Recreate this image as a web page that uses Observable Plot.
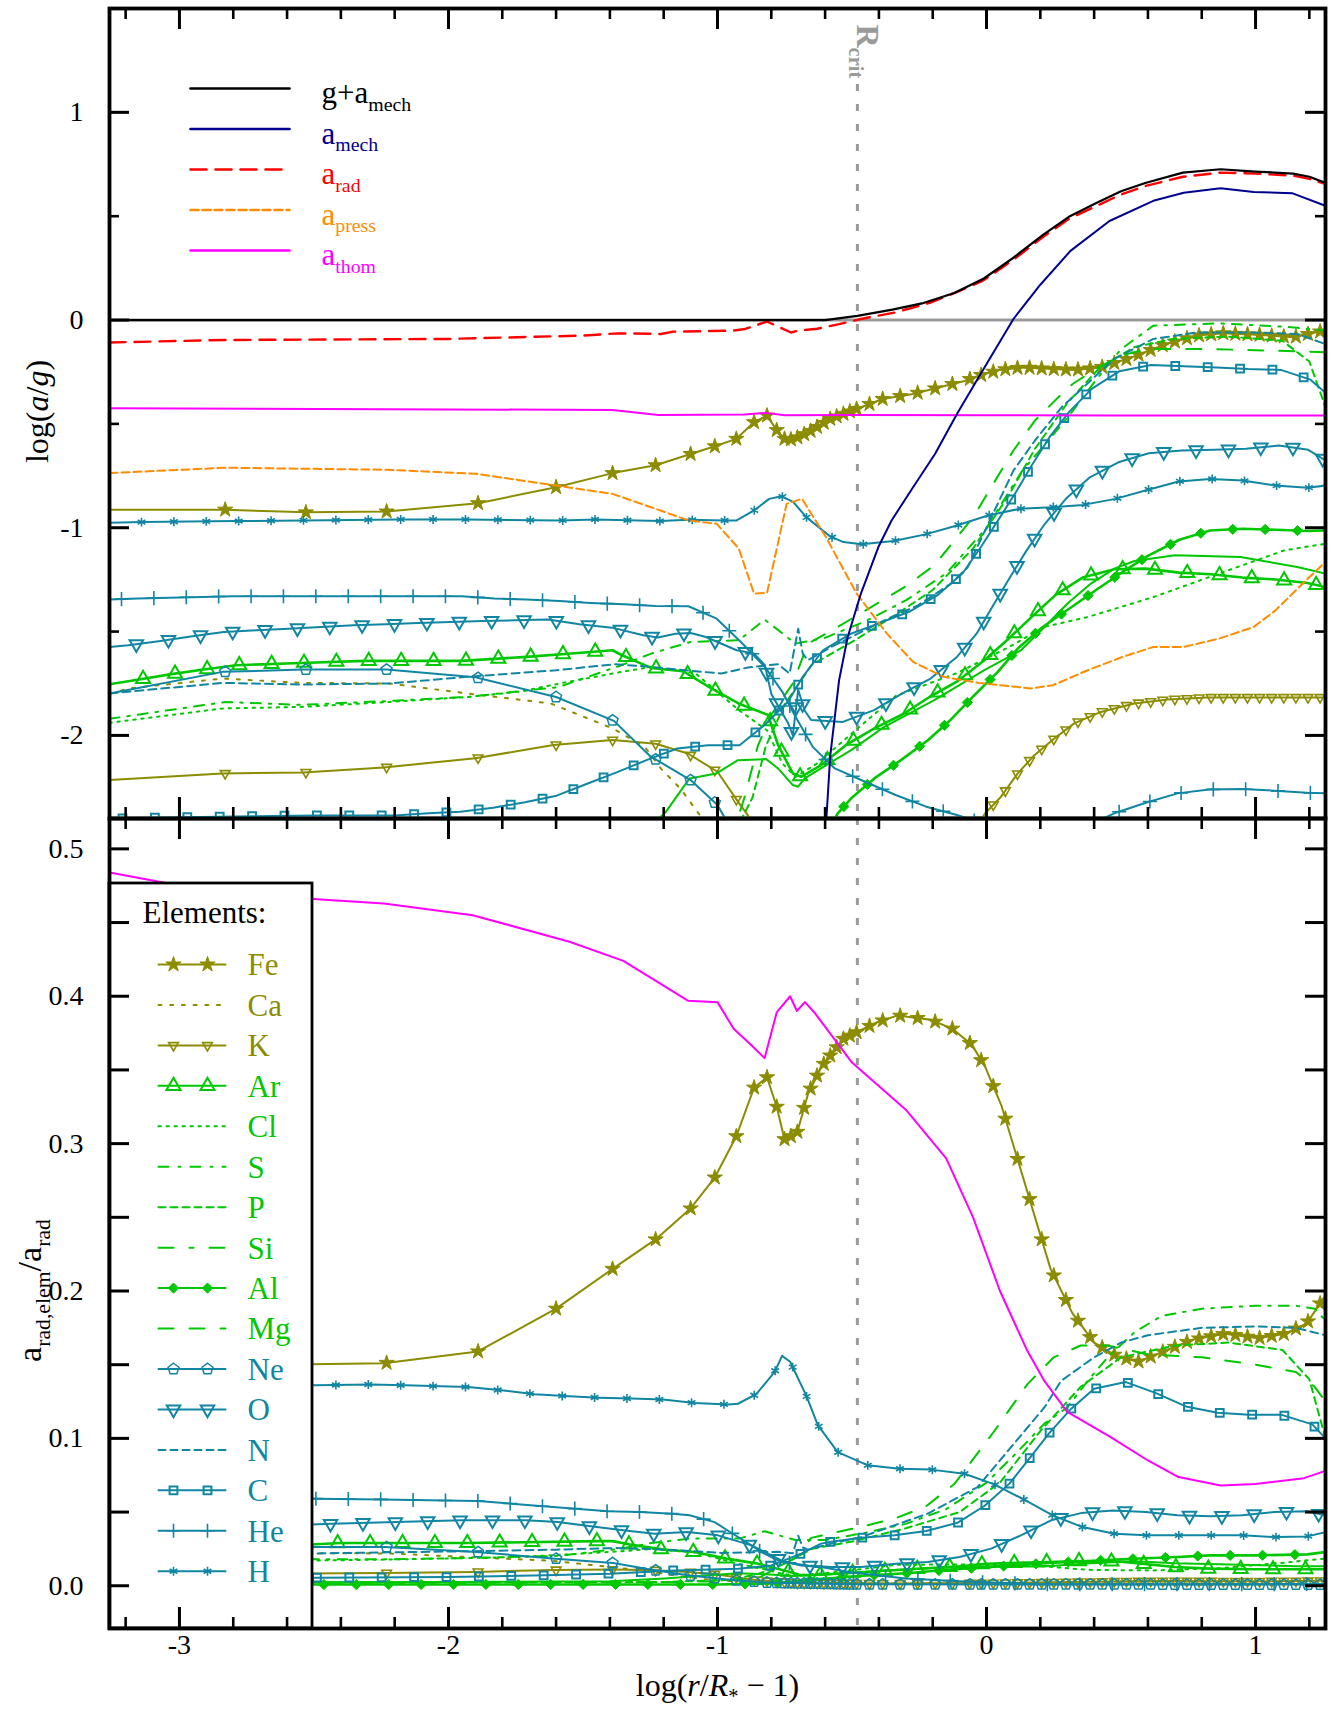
<!DOCTYPE html>
<html><head><meta charset="utf-8">
<script src="https://cdn.jsdelivr.net/npm/d3@7"></script>
<script src="https://cdn.jsdelivr.net/npm/@observablehq/plot@0.6"></script>
<style>
body{margin:0;background:#fff;}
#wrap{position:relative;width:1335px;height:1714px;background:#fff;}
#wrap svg{position:absolute;left:0;overflow:visible;}
#wrap svg text{font-family:'Liberation Serif','Times New Roman',serif;}
</style></head><body><div id="wrap"></div>
<script>
// ---------------- axes / ticks ----------------
const X_DOMAIN = [-3.26, 1.26];
const TOP_Y = [-2.4, 1.5];
const BOT_Y = [-0.029, 0.5206];
const xMajor = [-3, -2, -1, 0, 1];
const xMinor = [-3.2,-2.8,-2.6,-2.4,-2.2,-1.8,-1.6,-1.4,-1.2,-0.8,-0.6,-0.4,-0.2,0.2,0.4,0.6,0.8,1.2];
const topYMajor = [-2, -1, 0, 1];
const topYMinor = [-1.5, -0.5, 0.5];
const botYTicks = [0,0.05,0.1,0.15,0.2,0.25,0.3,0.35,0.4,0.45,0.5];
const botYLabels = [0,0.1,0.2,0.3,0.4,0.5];
const rCrit = -0.48;
// model depth points (where Fe, K, Ne symbols sit)
const depthGrid = [-2.83,-2.53,-2.23,-1.89,-1.60,-1.39,-1.23,-1.10,-1.01,-0.93,-0.864,-0.816,-0.78,-0.751,-0.727,-0.703,-0.678,-0.654,-0.630,-0.605,-0.581,-0.557,-0.532,-0.508,-0.483,-0.435,-0.386,-0.321,-0.256,-0.191,-0.127,-0.062,-0.02,0.025,0.07,0.115,0.16,0.205,0.25,0.295,0.34,0.385,0.43,0.475,0.52,0.565,0.61,0.655,0.70,0.745,0.79,0.835,0.88,0.925,0.97,1.015,1.06,1.105,1.15,1.195,1.24];

// ---------------- top panel: log(a/g) ----------------
const topGMech = [[-3.26,0],[-0.6,0],[-0.48,0.02],[-0.35,0.05],[-0.24,0.08],[-0.12,0.13],[-0.01,0.2],[0.1,0.3],[0.21,0.41],[0.31,0.5],[0.41,0.565],[0.5,0.62],[0.59,0.66],[0.73,0.71],[0.87,0.726],[1.0,0.715],[1.14,0.705],[1.2,0.69],[1.26,0.66]];
const topAMech = [[-0.6,-2.5],[-0.581,-2.10],[-0.548,-1.734],[-0.516,-1.526],[-0.467,-1.317],[-0.402,-1.093],[-0.353,-0.965],[-0.273,-0.805],[-0.191,-0.644],[-0.110,-0.452],[-0.037,-0.292],[0.10,0.005],[0.2,0.17],[0.312,0.333],[0.457,0.477],[0.62,0.574],[0.733,0.613],[0.87,0.635],[0.993,0.617],[1.138,0.61],[1.26,0.55]];
const topARad = [[-3.26,-0.108],[-2.83,-0.096],[-2.0,-0.091],[-1.5,-0.075],[-1.37,-0.064],[-1.21,-0.067],[-1.165,-0.056],[-0.94,-0.051],[-0.897,-0.043],[-0.816,-0.007],[-0.727,-0.06],[-0.70,-0.051],[-0.63,-0.042],[-0.548,-0.02],[-0.467,0.005],[-0.338,0.037],[-0.208,0.084],[-0.1,0.14],[-0.013,0.19],[0.1,0.29],[0.21,0.40],[0.31,0.49],[0.41,0.55],[0.5,0.605],[0.59,0.645],[0.73,0.69],[0.87,0.71],[1.0,0.705],[1.14,0.695],[1.2,0.68],[1.26,0.655]];
const topAPress = [[-3.26,-0.737],[-2.83,-0.711],[-2.23,-0.721],[-1.90,-0.740],[-1.60,-0.797],[-1.39,-0.837],[-1.25,-0.90],[-1.107,-0.965],[-1.003,-0.981],[-0.921,-1.10],[-0.864,-1.317],[-0.816,-1.314],[-0.743,-0.885],[-0.686,-0.861],[-0.597,-1.045],[-0.483,-1.317],[-0.370,-1.51],[-0.273,-1.646],[-0.159,-1.718],[-0.029,-1.747],[0.165,-1.774],[0.247,-1.758],[0.376,-1.686],[0.506,-1.622],[0.62,-1.574],[0.733,-1.574],[0.864,-1.534],[0.993,-1.478],[1.074,-1.398],[1.187,-1.254],[1.26,-1.165]];
const topAThom = [[-3.26,-0.425],[-1.39,-0.433],[-1.22,-0.457],[-0.9,-0.455],[-0.82,-0.447],[-0.75,-0.458],[-0.5,-0.457],[0,-0.458],[0.5,-0.46],[1.26,-0.46]];
const topFe = [[-3.26,-0.913],[-2.83,-0.913],[-2.53,-0.926],[-2.23,-0.922],[-1.89,-0.882],[-1.60,-0.805],[-1.39,-0.737],[-1.23,-0.699],[-1.10,-0.645],[-1.01,-0.608],[-0.93,-0.572],[-0.864,-0.492],[-0.816,-0.46],[-0.78,-0.53],[-0.751,-0.572],[-0.727,-0.575],[-0.703,-0.565],[-0.662,-0.54],[-0.581,-0.476],[-0.483,-0.428],[-0.386,-0.380],[-0.273,-0.356],[-0.175,-0.324],[-0.078,-0.292],[-0.029,-0.268],[0.05,-0.24],[0.133,-0.228],[0.247,-0.236],[0.328,-0.240],[0.425,-0.228],[0.539,-0.18],[0.668,-0.115],[0.782,-0.075],[0.879,-0.064],[1.025,-0.072],[1.139,-0.083],[1.26,-0.05]];
const topCa = [[-3.26,-1.80],[-3.19,-1.774],[-2.84,-1.726],[-2.55,-1.747],[-2.22,-1.75],[-1.93,-1.798],[-1.62,-1.846],[-1.39,-1.966],[-1.27,-2.055],[-1.21,-2.16],[-1.135,-2.26],[-1.085,-2.35],[-1.0,-2.5]];
const topK = [[-3.26,-2.215],[-2.84,-2.183],[-2.54,-2.178],[-2.24,-2.154],[-1.90,-2.11],[-1.61,-2.046],[-1.39,-2.022],[-1.23,-2.04],[-1.11,-2.087],[-1.0,-2.175],[-0.924,-2.319],[-0.887,-2.385],[-0.85,-2.46],[-0.6,-2.7],[-0.2,-2.7],[-0.05,-2.47],[-0.005,-2.375],[0.054,-2.295],[0.116,-2.183],[0.178,-2.095],[0.252,-2.015],[0.326,-1.942],[0.425,-1.887],[0.549,-1.846],[0.673,-1.827],[0.821,-1.817],[1.044,-1.817],[1.26,-1.817]];
const topAr = [[-3.26,-1.754],[-3.15,-1.731],[-3.03,-1.705],[-2.91,-1.683],[-2.79,-1.662],[-2.55,-1.651],[-2.31,-1.641],[-1.95,-1.641],[-1.71,-1.622],[-1.47,-1.598],[-1.39,-1.59],[-1.355,-1.614],[-1.247,-1.675],[-1.128,-1.691],[-1.029,-1.769],[-0.922,-1.846],[-0.812,-1.902],[-0.775,-2.046],[-0.720,-2.183],[-0.689,-2.199],[-0.615,-2.143],[-0.522,-2.046],[-0.417,-1.966],[-0.311,-1.898],[-0.212,-1.815],[-0.107,-1.738],[-0.008,-1.638],[0.079,-1.538],[0.165,-1.433],[0.258,-1.322],[0.357,-1.24],[0.475,-1.20],[0.592,-1.197],[0.716,-1.216],[0.834,-1.224],[0.951,-1.24],[1.075,-1.249],[1.193,-1.266],[1.26,-1.286]];
const topCl = [[-3.26,-1.939],[-2.84,-1.87],[-2.55,-1.863],[-2.22,-1.839],[-1.93,-1.815],[-1.74,-1.79],[-1.555,-1.742],[-1.357,-1.694],[-1.246,-1.67],[-1.083,-1.70],[-0.921,-1.878],[-0.816,-1.975],[-0.759,-2.135],[-0.71,-2.2],[-0.63,-2.135],[-0.50,-1.99],[-0.338,-1.81],[-0.11,-1.70],[0.084,-1.574],[0.214,-1.478],[0.376,-1.43],[0.62,-1.334],[0.864,-1.221],[1.107,-1.109],[1.26,-1.077]];
const topS = [[-3.26,-1.92],[-2.83,-1.839],[-2.55,-1.853],[-2.22,-1.834],[-1.93,-1.815],[-1.59,-1.767],[-1.36,-1.663],[-1.246,-1.606],[-1.10,-1.55],[-0.92,-1.542],[-0.825,-1.442],[-0.71,-1.558],[-0.6,-1.53],[-0.45,-1.45],[-0.3,-1.35],[-0.15,-1.22],[0,-1.0],[0.133,-0.725],[0.23,-0.58],[0.312,-0.452],[0.4,-0.3],[0.5,-0.14],[0.62,-0.027],[0.864,-0.016],[1.107,-0.032],[1.26,-0.05]];
const topP = [[-3.26,-2.7],[-1.2,-2.65],[-0.95,-2.5],[-0.87,-2.3],[-0.82,-2.05],[-0.75,-1.85],[-0.65,-1.66],[-0.5,-1.55],[-0.35,-1.43],[-0.2,-1.3],[-0.05,-1.1],[0.08,-0.85],[0.18,-0.62],[0.3,-0.4],[0.42,-0.23],[0.55,-0.13],[0.7,-0.09],[0.9,-0.08],[1.1,-0.1],[1.2,-0.2],[1.26,-0.42]];
const topSi = [[-3.26,-2.7],[-2.0,-2.7],[-1.4,-2.6],[-1.196,-2.375],[-1.104,-2.207],[-1.004,-2.183],[-0.924,-2.119],[-0.819,-2.114],[-0.775,-2.159],[-0.72,-2.239],[-0.70,-2.247],[-0.676,-2.207],[-0.602,-2.148],[-0.503,-2.071],[-0.38,-1.959],[-0.194,-1.83],[-0.008,-1.686],[0.128,-1.59],[0.209,-1.486],[0.301,-1.365],[0.388,-1.269],[0.475,-1.197],[0.55,-1.16],[0.70,-1.133],[0.944,-1.141],[1.155,-1.189],[1.26,-1.221]];
const topAl = [[-3.26,-3.1],[-1.0,-3.0],[-0.7,-2.7],[-0.553,-2.375],[-0.503,-2.303],[-0.417,-2.207],[-0.318,-2.119],[-0.218,-2.023],[-0.132,-1.923],[-0.045,-1.806],[0.042,-1.694],[0.116,-1.582],[0.209,-1.478],[0.307,-1.39],[0.407,-1.30],[0.506,-1.213],[0.603,-1.133],[0.717,-1.058],[0.831,-1.013],[0.952,-1.005],[1.074,-1.01],[1.196,-1.016],[1.26,-1.013]];
const topMg = [[-3.26,-2.8],[-1.0,-2.7],[-0.9,-2.3],[-0.85,-2.05],[-0.8,-1.9],[-0.72,-1.75],[-0.664,-1.558],[-0.553,-1.478],[-0.429,-1.382],[-0.305,-1.286],[-0.194,-1.181],[-0.05,-0.95],[0.10,-0.628],[0.18,-0.484],[0.279,-0.356],[0.32,-0.308],[0.4,-0.24],[0.5,-0.17],[0.6,-0.14],[0.83,-0.14],[1.0,-0.145],[1.26,-0.155]];
const topNe = [[-3.26,-1.798],[-2.84,-1.694],[-2.54,-1.683],[-2.23,-1.683],[-1.90,-1.72],[-1.60,-1.815],[-1.385,-1.93],[-1.25,-2.10],[-1.10,-2.215],[-1.0,-2.335],[-0.95,-2.45],[-0.8,-2.7]];
const topO = [[-3.26,-1.574],[-3.19,-1.566],[-3.07,-1.545],[-2.952,-1.523],[-2.835,-1.502],[-2.714,-1.494],[-2.595,-1.486],[-2.474,-1.478],[-2.353,-1.470],[-2.233,-1.465],[-2.113,-1.459],[-1.993,-1.454],[-1.872,-1.449],[-1.753,-1.446],[-1.629,-1.442],[-1.513,-1.465],[-1.392,-1.481],[-1.276,-1.518],[-1.222,-1.529],[-1.156,-1.51],[-1.10,-1.507],[-1.043,-1.526],[-0.929,-1.59],[-0.864,-1.606],[-0.824,-1.662],[-0.80,-1.8],[-0.738,-1.94],[-0.72,-2.0],[-0.70,-1.78],[-0.676,-1.88],[-0.652,-1.926],[-0.534,-1.935],[-0.418,-1.878],[-0.313,-1.798],[-0.208,-1.726],[-0.110,-1.622],[-0.037,-1.51],[0.025,-1.373],[0.088,-1.237],[0.149,-1.109],[0.217,-0.981],[0.295,-0.861],[0.384,-0.757],[0.49,-0.685],[0.603,-0.641],[0.725,-0.628],[0.847,-0.625],[0.964,-0.620],[1.087,-0.604],[1.196,-0.625],[1.26,-0.676]];
const topN = [[-3.26,-1.798],[-2.84,-1.747],[-2.55,-1.755],[-2.22,-1.75],[-1.93,-1.718],[-1.60,-1.686],[-1.38,-1.657],[-1.246,-1.67],[-1.122,-1.686],[-0.986,-1.702],[-0.887,-1.673],[-0.775,-1.657],[-0.732,-1.702],[-0.70,-1.486],[-0.683,-1.606],[-0.664,-1.638],[-0.577,-1.574],[-0.478,-1.51],[-0.38,-1.446],[-0.255,-1.374],[-0.132,-1.269],[-0.07,-1.19],[0.10,-0.725],[0.18,-0.58],[0.279,-0.42],[0.36,-0.324],[0.473,-0.188],[0.62,-0.091],[0.782,-0.06],[0.993,-0.06],[1.155,-0.067],[1.26,-0.116]];
const topC = [[-3.26,-2.40],[-2.8,-2.39],[-2.5,-2.385],[-2.2,-2.385],[-2.075,-2.375],[-1.957,-2.367],[-1.834,-2.348],[-1.716,-2.322],[-1.598,-2.29],[-1.487,-2.234],[-1.375,-2.178],[-1.264,-2.119],[-1.15,-2.063],[-1.035,-2.047],[-0.918,-2.047],[-0.825,-1.95],[-0.738,-1.838],[-0.683,-1.718],[-0.608,-1.59],[-0.509,-1.513],[-0.398,-1.459],[-0.283,-1.402],[-0.179,-1.322],[-0.088,-1.218],[-0.021,-1.093],[0.044,-0.962],[0.109,-0.829],[0.17,-0.696],[0.234,-0.564],[0.308,-0.441],[0.392,-0.33],[0.493,-0.247],[0.612,-0.216],[0.733,-0.223],[0.855,-0.228],[0.973,-0.236],[1.094,-0.24],[1.204,-0.287],[1.26,-0.35]];
const topHe = [[-3.26,-1.346],[-3.154,-1.341],[-3.038,-1.337],[-2.913,-1.333],[-2.798,-1.330],[-1.952,-1.330],[-1.828,-1.341],[-1.711,-1.346],[-1.587,-1.353],[-1.471,-1.362],[-1.347,-1.369],[-1.231,-1.377],[-1.108,-1.378],[-1.003,-1.438],[-0.913,-1.55],[-0.824,-1.67],[-0.759,-1.79],[-0.71,-1.91],[-0.646,-2.055],[-0.564,-2.159],[-0.451,-2.223],[-0.338,-2.287],[-0.224,-2.343],[-0.11,-2.383],[-0.02,-2.42],[0.1,-2.55],[0.3,-2.48],[0.475,-2.375],[0.592,-2.324],[0.71,-2.279],[0.827,-2.26],[0.951,-2.258],[1.069,-2.266],[1.193,-2.276],[1.26,-2.279]];
const topH = [[-3.26,-0.976],[-3.137,-0.973],[-2.79,-0.968],[-2.184,-0.960],[-1.94,-0.960],[-1.579,-0.965],[-1.455,-0.96],[-1.214,-0.968],[-1.107,-0.962],[-0.973,-0.965],[-0.929,-0.965],[-0.864,-0.917],[-0.808,-0.861],[-0.762,-0.848],[-0.718,-0.877],[-0.670,-0.949],[-0.581,-1.042],[-0.532,-1.069],[-0.464,-1.08],[-0.345,-1.064],[-0.227,-1.032],[-0.11,-0.989],[0.005,-0.941],[0.122,-0.909],[0.243,-0.901],[0.36,-0.89],[0.479,-0.861],[0.597,-0.818],[0.714,-0.777],[0.832,-0.765],[0.952,-0.773],[1.074,-0.797],[1.192,-0.808],[1.26,-0.797]];

// ---------------- bottom panel: a_rad,elem / a_rad ----------------
const botThom = [[-3.26,0.484],[-2.85,0.470],[-2.24,0.463],[-1.91,0.455],[-1.55,0.437],[-1.35,0.424],[-1.11,0.397],[-1.0,0.396],[-0.94,0.378],[-0.87,0.366],[-0.825,0.358],[-0.78,0.389],[-0.73,0.40],[-0.705,0.39],[-0.675,0.396],[-0.64,0.389],[-0.5,0.355],[-0.3,0.323],[-0.15,0.29],[-0.05,0.25],[0.05,0.2],[0.15,0.16],[0.215,0.139],[0.3,0.118],[0.46,0.101],[0.6,0.085],[0.71,0.074],[0.87,0.068],[1.0,0.069],[1.18,0.073],[1.26,0.078]];
const botFe = [[-3.26,0.148],[-2.65,0.150],[-2.24,0.151],[-1.89,0.159],[-1.60,0.188],[-1.39,0.215],[-1.23,0.235],[-1.10,0.256],[-1.01,0.277],[-0.93,0.305],[-0.864,0.338],[-0.816,0.345],[-0.78,0.325],[-0.751,0.303],[-0.727,0.305],[-0.703,0.308],[-0.663,0.334],[-0.614,0.352],[-0.533,0.371],[-0.411,0.382],[-0.33,0.387],[-0.208,0.384],[-0.127,0.378],[-0.054,0.367],[-0.005,0.352],[0.055,0.326],[0.116,0.289],[0.177,0.252],[0.238,0.215],[0.319,0.185],[0.40,0.165],[0.482,0.156],[0.563,0.152],[0.644,0.158],[0.766,0.167],[0.888,0.171],[1.01,0.168],[1.11,0.171],[1.19,0.178],[1.26,0.197]];
const botCa = [[-3.26,0.0203],[-2.84,0.0234],[-2.55,0.0222],[-2.22,0.0219],[-1.93,0.0195],[-1.62,0.017],[-1.39,0.0125],[-1.27,0.0103],[-1.135,0.0063],[-1.0,0.0035],[-0.8,0.002],[-0.5,0.0015],[0.5,0.0015],[1.26,0.0015]];
const botK = [[-3.26,0.0079],[-2.84,0.0082],[-2.54,0.0083],[-2.24,0.0086],[-1.9,0.0094],[-1.61,0.0107],[-1.39,0.011],[-1.23,0.0106],[-1.11,0.0094],[-1.0,0.0077],[-0.92,0.0055],[-0.85,0.0037],[-0.7,0.002],[-0.4,0.0015],[0,0.0018],[0.3,0.0025],[0.6,0.0032],[1.0,0.003],[1.26,0.0034]];
const botAr = [[-3.26,0.0226],[-2.91,0.0259],[-2.55,0.0277],[-2.4,0.029],[-1.93,0.029],[-1.44,0.0303],[-1.39,0.0303],[-1.33,0.0281],[-1.2,0.0245],[-1.085,0.0229],[-0.967,0.0184],[-0.85,0.015],[-0.73,0.0093],[-0.69,0.0071],[-0.6,0.0076],[-0.5,0.0088],[-0.3,0.011],[-0.1,0.0132],[0,0.0149],[0.2,0.016],[0.35,0.0167],[0.5,0.0164],[0.7,0.0127],[0.83,0.0116],[1.0,0.0112],[1.26,0.0112]];
const botCl = [[-3.26,0.0148],[-2.84,0.0168],[-2.55,0.017],[-2.22,0.0178],[-1.93,0.0188],[-1.74,0.0195],[-1.555,0.0213],[-1.357,0.0234],[-1.246,0.025],[-1.083,0.0226],[-0.921,0.0148],[-0.816,0.0108],[-0.759,0.008],[-0.71,0.0071],[-0.63,0.0081],[-0.50,0.0105],[-0.338,0.0142],[-0.11,0.0145],[0.084,0.0143],[0.214,0.0132],[0.376,0.0108],[0.62,0.0104],[0.864,0.0119],[1.107,0.0157],[1.26,0.0185]];
const botS = [[-3.26,0.0154],[-2.83,0.0181],[-2.22,0.018],[-1.93,0.0188],[-1.59,0.0203],[-1.36,0.0252],[-1.246,0.029],[-1.10,0.032],[-0.92,0.032],[-0.825,0.037],[-0.71,0.031],[-0.6,0.031],[-0.45,0.036],[-0.3,0.042],[-0.15,0.052],[0,0.07],[0.1,0.088],[0.215,0.11],[0.3,0.121],[0.376,0.139],[0.45,0.155],[0.55,0.172],[0.65,0.183],[0.8,0.188],[1.0,0.19],[1.15,0.19],[1.22,0.188],[1.26,0.18]];
const botP = [[-3.26,0.002],[-1.2,0.0025],[-0.95,0.004],[-0.85,0.008],[-0.75,0.015],[-0.65,0.025],[-0.5,0.03],[-0.3,0.039],[-0.1,0.05],[0.05,0.07],[0.2,0.105],[0.35,0.135],[0.5,0.155],[0.7,0.163],[0.9,0.165],[1.1,0.16],[1.2,0.14],[1.26,0.1]];
const botSi = [[-3.26,0.0022],[-2.0,0.0025],[-1.4,0.003],[-1.196,0.0049],[-1.004,0.0074],[-0.924,0.0085],[-0.819,0.0078],[-0.72,0.0066],[-0.602,0.0077],[-0.503,0.0087],[-0.38,0.0103],[-0.194,0.012],[-0.008,0.0133],[0.209,0.013],[0.388,0.0153],[0.55,0.0166],[0.70,0.0152],[0.944,0.0143],[1.155,0.0132],[1.26,0.0132]];
const botAl = [[-3.26,0.0008],[-1.0,0.0009],[-0.8,0.0015],[-0.615,0.0045],[-0.49,0.0065],[-0.3,0.0085],[-0.132,0.011],[-0.008,0.0125],[0.233,0.0155],[0.351,0.0165],[0.5,0.018],[0.71,0.0195],[0.83,0.0206],[1.0,0.0206],[1.193,0.0213],[1.26,0.0229]];
const botMg = [[-3.26,0.002],[-1.5,0.002],[-1.0,0.003],[-0.85,0.005],[-0.7,0.02],[-0.652,0.0325],[-0.466,0.040],[-0.342,0.0456],[-0.228,0.0535],[-0.12,0.069],[0.029,0.105],[0.153,0.137],[0.25,0.155],[0.35,0.163],[0.45,0.163],[0.6,0.157],[0.8,0.155],[1.0,0.15],[1.15,0.145],[1.22,0.135],[1.26,0.125]];
const botNe = [[-3.26,0.020],[-2.84,0.0253],[-2.5,0.0263],[-2.236,0.0263],[-1.896,0.0229],[-1.602,0.0184],[-1.388,0.0154],[-1.25,0.011],[-1.11,0.0071],[-0.937,0.0037],[-0.8,0.002],[-0.5,0.001],[1.26,0.0008]];
const botO = [[-3.26,0.034],[-2.9,0.039],[-2.433,0.0421],[-2.193,0.0432],[-1.951,0.0444],[-1.712,0.0444],[-1.592,0.0432],[-1.471,0.0403],[-1.351,0.0376],[-1.234,0.0353],[-1.112,0.0364],[-0.998,0.0342],[-0.874,0.0274],[-0.812,0.0218],[-0.763,0.0172],[-0.714,0.015],[-0.664,0.0138],[-0.577,0.0127],[-0.466,0.0127],[-0.336,0.015],[-0.218,0.0161],[-0.10,0.0195],[0.017,0.0252],[0.128,0.0342],[0.24,0.0444],[0.351,0.0493],[0.469,0.0511],[0.593,0.05],[0.71,0.0478],[0.834,0.0471],[0.951,0.0478],[1.069,0.05],[1.193,0.0505],[1.26,0.0478]];
const botN = [[-3.26,0.0204],[-2.84,0.0223],[-2.55,0.0218],[-1.93,0.0234],[-1.6,0.0245],[-1.38,0.0256],[-1.246,0.025],[-0.986,0.0223],[-0.775,0.023],[-0.72,0.022],[-0.70,0.034],[-0.683,0.026],[-0.664,0.0245],[-0.577,0.0286],[-0.466,0.033],[-0.218,0.049],[-0.033,0.067],[0.091,0.094],[0.215,0.121],[0.277,0.139],[0.4,0.155],[0.5,0.165],[0.6,0.17],[0.8,0.175],[1.0,0.176],[1.15,0.175],[1.26,0.17]];
const botC = [[-3.26,0.005],[-2.484,0.0055],[-2.0,0.0059],[-1.642,0.0071],[-1.401,0.0082],[-1.159,0.0104],[-0.924,0.0116],[-0.80,0.0138],[-0.689,0.0218],[-0.615,0.0286],[-0.584,0.0297],[-0.466,0.0326],[-0.342,0.0342],[-0.224,0.0371],[-0.107,0.0428],[-0.008,0.0541],[0.085,0.0693],[0.159,0.0862],[0.233,0.1036],[0.314,0.120],[0.40,0.1337],[0.518,0.1382],[0.63,0.1307],[0.741,0.1217],[0.859,0.1174],[0.976,0.1161],[1.094,0.1161],[1.211,0.1095],[1.26,0.10]];
const botHe = [[-3.26,0.058],[-2.496,0.0591],[-2.25,0.0586],[-2.013,0.0579],[-1.89,0.0575],[-1.766,0.0557],[-1.648,0.0539],[-1.528,0.0523],[-1.407,0.0505],[-1.287,0.05],[-1.168,0.0489],[-1.104,0.0478],[-1.011,0.0432],[-0.943,0.0353],[-0.874,0.0274],[-0.837,0.0229],[-0.775,0.0172],[-0.689,0.0138],[-0.615,0.0127],[-0.5,0.009],[-0.3,0.005],[-0.1,0.003],[0.2,0.001],[0.6,0.0011],[1.0,0.0011],[1.26,0.0012]];
const botH = [[-3.26,0.135],[-2.496,0.136],[-2.286,0.1366],[-2.162,0.136],[-1.927,0.1348],[-1.803,0.1326],[-1.679,0.130],[-1.568,0.1287],[-1.444,0.1276],[-1.32,0.127],[-1.202,0.1263],[-1.085,0.124],[-0.961,0.123],[-0.924,0.1235],[-0.856,0.130],[-0.788,0.145],[-0.76,0.156],[-0.73,0.152],[-0.670,0.129],[-0.627,0.109],[-0.553,0.0907],[-0.441,0.0817],[-0.324,0.0794],[-0.206,0.0788],[-0.082,0.076],[0.029,0.0688],[0.14,0.0584],[0.246,0.0478],[0.357,0.0398],[0.475,0.0353],[0.593,0.0342],[0.834,0.0342],[0.951,0.0342],[1.075,0.033],[1.193,0.0335],[1.26,0.0364]];

// legend labels
const topLegendLabels = ["g+a_{mech}", "a_{mech}", "a_{rad}", "a_{press}", "a_{thom}"];
const elementNames = ["Fe","Ca","K","Ar","Cl","S","P","Si","Al","Mg","Ne","O","N","C","He","H"];

// ---------------- styling ----------------
const FONT = "Liberation Serif";
const OLIVE = "#8c8c00", GREEN = "#00c800", TEAL = "#1186a2", NAVY = "#00008f", RED = "#ff0000", ORANGE = "#ff8c00", MAGENTA = "#ff00ff", GREY = "#9a9a9a";
const W = 1335, ML = 109, MR = 10;
const TOP_H = 819, TOP_MT = 8, TOP_MB = 1;
const BOT_OFF = 818, BOT_H = 896, BOT_MT = 0, BOT_MB = 86;
const FW = W - ML - MR;

const pentagon = {draw(ctx, size){ const r = Math.sqrt(size/Math.PI)*1.15; for (let k=0;k<5;k++){ const a=-Math.PI/2+k*2*Math.PI/5; const px=r*Math.cos(a), py=r*Math.sin(a); if(k) ctx.lineTo(px,py); else ctx.moveTo(px,py);} ctx.closePath(); }};
const MARK = {
  star:   {symbol:"star", r:4.8, filled:true, sw:1},
  kTri:   {symbol:"triangle", r:3.6, rotate:180, filled:false, sw:1.6},
  triUp:  {symbol:"triangle", r:5.2, filled:false, sw:2},
  diam:   {symbol:"diamond2", r:4.6, filled:true, sw:1},
  pent:   {symbol:pentagon, r:5.0, filled:false, sw:1.5},
  triDn:  {symbol:"triangle", r:5.0, rotate:180, filled:false, sw:2},
  square: {symbol:"square", r:4.4, filled:false, sw:2},
  plus:   {symbol:"plus", r:4.6, filled:false, sw:1.6},
  ast:    {symbol:"asterisk", r:4.2, filled:false, sw:1.6}
};
const elemStyle = {
  Fe:{color:OLIVE, marker:"star", mode:"grid", width:2},
  Ca:{color:OLIVE, dash:"3,8.7", width:2},
  K: {color:OLIVE, marker:"kTri", mode:"grid", width:2},
  Ar:{color:GREEN, marker:"triUp", mode:"arc", offset:34, width:2.6},
  Cl:{color:GREEN, dash:"2.4,5.6", width:2},
  S: {color:GREEN, dash:"10,8,2.5,8", width:2},
  P: {color:GREEN, dash:"7,5", width:2},
  Si:{color:GREEN, width:2},
  Al:{color:GREEN, marker:"diam", mode:"arc", offset:20, width:2.6},
  Mg:{color:GREEN, dash:"15,16", width:2},
  Ne:{color:TEAL, marker:"pent", mode:"grid", width:2},
  O: {color:TEAL, marker:"triDn", mode:"arc", offset:27, width:2},
  N: {color:TEAL, dash:"8,5", width:2},
  C: {color:TEAL, marker:"square", mode:"arc", offset:13, width:2},
  He:{color:TEAL, marker:"plus", mode:"arc", offset:12, width:2},
  H: {color:TEAL, marker:"ast", mode:"arc", offset:32, width:2}
};
const legendDash = {Fe:null, Ca:"3,8.7", K:null, Ar:null, Cl:"2.4,5.6", S:"10,10,2,10", P:"7,5", Si:"15,16,4,16", Al:null, Mg:"15,16", Ne:null, O:null, N:"7,5", C:null, He:null, H:null};

const topData = {Fe:topFe, Ca:topCa, K:topK, Ar:topAr, Cl:topCl, S:topS, P:topP, Si:topSi, Al:topAl, Mg:topMg, Ne:topNe, O:topO, N:topN, C:topC, He:topHe, H:topH};
const botData = {Fe:botFe, Ca:botCa, K:botK, Ar:botAr, Cl:botCl, S:botS, P:botP, Si:botSi, Al:botAl, Mg:botMg, Ne:botNe, O:botO, N:botN, C:botC, He:botHe, H:botH};

// ---------------- helpers ----------------
const sx = Plot.scale({x:{domain:X_DOMAIN, range:[ML, W-MR]}});
const syTop = Plot.scale({y:{domain:TOP_Y, range:[TOP_H-TOP_MB, TOP_MT]}});
const syBot = Plot.scale({y:{domain:BOT_Y, range:[BOT_H-BOT_MB, BOT_MT]}});

function interpY(pts, x){
  for (let i=1;i<pts.length;i++){ if (x<=pts[i][0]){ const [x0,y0]=pts[i-1], [x1,y1]=pts[i]; return y0+(y1-y0)*(x-x0)/(x1-x0);} }
  return pts[pts.length-1][1];
}
function gridMarkers(pts){ return depthGrid.filter(x=>x>=pts[0][0] && x<=pts[pts.length-1][0]).map(x=>[x, interpY(pts,x)]); }
function arcMarkers(pts, sy, step, offset){
  const P = pts.map(([x,y])=>[sx.apply(x), sy.apply(y)]);
  const out = []; let t0 = offset;
  for (let i=1;i<P.length;i++){
    const len = Math.hypot(P[i][0]-P[i-1][0], P[i][1]-P[i-1][1]);
    let t = t0;
    while (t <= len){ const f = len ? t/len : 0; out.push([pts[i-1][0]+f*(pts[i][0]-pts[i-1][0]), pts[i-1][1]+f*(pts[i][1]-pts[i-1][1])]); t += step; }
    t0 = t - len;
  }
  return out;
}
function markerMark(pts, kind, color){
  const m = MARK[kind];
  return Plot.dot(pts, {x:d=>d[0], y:d=>d[1], symbol:m.symbol, r:m.r, rotate:m.rotate||0, fill:m.filled?color:"none", stroke:color, strokeWidth:m.sw, clip:true});
}
function elementMarks(dataMap, sy){
  const marks = [];
  for (const name of elementNames){
    const st = elemStyle[name], data = dataMap[name];
    marks.push(Plot.line(data, {x:d=>d[0], y:d=>d[1], stroke:st.color, strokeWidth:st.width, strokeDasharray:st.dash, clip:true}));
    if (st.marker){
      const pts = st.mode==="grid" ? gridMarkers(data) : arcMarkers(data, sy, 32.4, st.offset);
      marks.push(markerMark(pts, st.marker, st.color));
    }
  }
  return marks;
}
function frameTicks(yMajor, yMinor, yMajorLen, yMinorLen, fh){
  return [
    Plot.ruleX(xMajor, {insetBottom: fh-21, stroke:"black", strokeWidth:3}),
    Plot.ruleX(xMajor, {insetTop: fh-21, stroke:"black", strokeWidth:3}),
    Plot.ruleX(xMinor, {insetBottom: fh-11, stroke:"black", strokeWidth:2.6}),
    Plot.ruleX(xMinor, {insetTop: fh-11, stroke:"black", strokeWidth:2.6}),
    Plot.ruleY(yMajor, {insetRight: FW-yMajorLen, stroke:"black", strokeWidth:3}),
    Plot.ruleY(yMajor, {insetLeft: FW-yMajorLen, stroke:"black", strokeWidth:3}),
    Plot.ruleY(yMinor, {insetRight: FW-yMinorLen, stroke:"black", strokeWidth:2.6}),
    Plot.ruleY(yMinor, {insetLeft: FW-yMinorLen, stroke:"black", strokeWidth:2.6}),
    Plot.frame({stroke:"black", strokeWidth:3.8})
  ];
}
function richify(svg){
  svg.querySelectorAll("text").forEach(t=>{
    const s = t.textContent;
    if (!/[_%]\{/.test(s)) return;
    while (t.firstChild) t.removeChild(t.firstChild);
    const re = /([_%])\{([^}]*)\}|([^_%]+|[_%])/g;
    let m, shifted = false;
    while ((m = re.exec(s))){
      const ts = document.createElementNS("http://www.w3.org/2000/svg","tspan");
      if (m[1]==="_"){ ts.setAttribute("font-size","64%"); ts.setAttribute("dy","0.38em"); ts.textContent=m[2]; shifted=true; }
      else { if (m[1]==="%") ts.setAttribute("font-style","italic"); ts.textContent = m[1]==="%" ? m[2] : m[3]; if (shifted){ ts.setAttribute("dy","-0.243em"); shifted=false; } }
      t.appendChild(ts);
    }
  });
}
const T = (data, opts) => Plot.text(data, {fontFamily: FONT, ...opts});

// ---------------- top panel ----------------
const topLegendColors = [ "black", NAVY, RED, ORANGE, MAGENTA ];
const topLegendDash = [ null, null, "16,9", "8,4", null ];
const topLegendMarks = [];
topLegendLabels.forEach((lab, i)=>{
  const yPx = 88 + 40.5*i;
  const y = syTop.invert(yPx);
  topLegendMarks.push(Plot.line([[sx.invert(190), y],[sx.invert(289), y]], {x:d=>d[0], y:d=>d[1], stroke:topLegendColors[i], strokeWidth:2.6, strokeDasharray:topLegendDash[i]}));
  topLegendMarks.push(T([lab], {x:sx.invert(321), y:syTop.invert(yPx+5), text:d=>d, textAnchor:"start", fill:topLegendColors[i], fontSize:31}));
});

const topPlot = Plot.plot({
  width: W, height: TOP_H, marginLeft: ML, marginRight: MR, marginTop: TOP_MT, marginBottom: TOP_MB,
  style: {fontFamily: FONT, background: "transparent"},
  x: {domain: X_DOMAIN, axis: null},
  y: {domain: TOP_Y, axis: null},
  marks: [
    Plot.ruleY([0], {stroke: GREY, strokeWidth: 3}),
    Plot.ruleX([rCrit], {stroke: GREY, strokeWidth: 3, strokeDasharray: "7,13", insetTop: 76}),
    T(["R_{crit}"], {x: sx.invert(867), y: syTop.invert(24), rotate: 90, text: d=>d, textAnchor: "start", fill: GREY, fontWeight: "bold", fontSize: 32}),
    ...elementMarks(topData, syTop),
    Plot.line(topAThom, {x:d=>d[0], y:d=>d[1], stroke: MAGENTA, strokeWidth: 2, clip: true}),
    Plot.line(topAPress, {x:d=>d[0], y:d=>d[1], stroke: ORANGE, strokeWidth: 2, strokeDasharray: "8,4", clip: true}),
    Plot.line(topAMech, {x:d=>d[0], y:d=>d[1], stroke: NAVY, strokeWidth: 2, clip: true}),
    Plot.line(topARad, {x:d=>d[0], y:d=>d[1], stroke: RED, strokeWidth: 2.4, strokeDasharray: "16,9", clip: true}),
    Plot.line(topGMech, {x:d=>d[0], y:d=>d[1], stroke: "black", strokeWidth: 2.2, clip: true}),
    ...topLegendMarks,
    T(topYMajor, {y: d=>d, frameAnchor: "left", dx: -26, textAnchor: "end", text: d=>String(d), fontSize: 28}),
    T(["log(%{a}/%{g})"], {x: sx.invert(37), y: syTop.invert(411), rotate: -90, text: d=>d, fontSize: 32}),
    ...frameTicks(topYMajor, topYMinor, 20, 10, TOP_H-TOP_MT-TOP_MB)
  ]
});

// ---------------- bottom panel ----------------
const botLegendMarks = [];
const FH_B = BOT_H - BOT_MT - BOT_MB;
botLegendMarks.push(Plot.rect([0], {x1: sx.invert(ML), x2: sx.invert(312), y1: syBot.invert(FH_B), y2: syBot.invert(883-BOT_OFF), fill: "white", stroke: "black", strokeWidth: 2.8}));
botLegendMarks.push(T(["Elements:"], {x: sx.invert(142), y: syBot.invert(913-BOT_OFF), text: d=>d, textAnchor: "start", fill: "black", fontSize: 31}));
elementNames.forEach((name, i)=>{
  const st = elemStyle[name];
  const yPx = 964 + 40.45*i - BOT_OFF;
  const y = syBot.invert(yPx);
  botLegendMarks.push(Plot.line([[sx.invert(158), y],[sx.invert(225), y]], {x:d=>d[0], y:d=>d[1], stroke: st.color, strokeWidth: 2, strokeDasharray: legendDash[name]}));
  if (st.marker) botLegendMarks.push(markerMark([[sx.invert(173), y],[sx.invert(207), y]], st.marker, st.color));
  botLegendMarks.push(T([name], {x: sx.invert(247), y: syBot.invert(yPx+1), text: d=>d, textAnchor: "start", fill: st.color, fontSize: 31}));
});

const botPlot = Plot.plot({
  width: W, height: BOT_H, marginLeft: ML, marginRight: MR, marginTop: BOT_MT, marginBottom: BOT_MB,
  style: {fontFamily: FONT, background: "transparent", overflow: "visible"},
  x: {domain: X_DOMAIN, axis: null},
  y: {domain: BOT_Y, axis: null},
  marks: [
    Plot.ruleX([rCrit], {stroke: GREY, strokeWidth: 3, strokeDasharray: "7,13"}),
    ...elementMarks(botData, syBot),
    Plot.line(botThom, {x:d=>d[0], y:d=>d[1], stroke: MAGENTA, strokeWidth: 2, clip: true}),
    ...botLegendMarks,
    T(botYLabels, {y: d=>d, frameAnchor: "left", dx: -26, textAnchor: "end", text: d=>d.toFixed(1), fontSize: 28}),
    T(xMajor, {x: d=>d, frameAnchor: "bottom", dy: 25, text: d=>String(d), fontSize: 28}),
    T(["a_{rad,elem}/a_{rad}"], {x: sx.invert(30), y: syBot.invert(1290-BOT_OFF), rotate: -90, text: d=>d, fontSize: 34}),
    T(["log(%{r}/%{R}_{*} \u2212 1)"], {frameAnchor: "bottom", dy: 67, text: d=>d, fontSize: 32}),
    ...frameTicks(botYTicks, [], 20, 0, FH_B)
  ]
});

const wrap = document.getElementById("wrap");
topPlot.style.top = "0px";
botPlot.style.top = BOT_OFF + "px";
wrap.appendChild(botPlot);
wrap.appendChild(topPlot);
richify(topPlot); richify(botPlot);
</script></body></html>
